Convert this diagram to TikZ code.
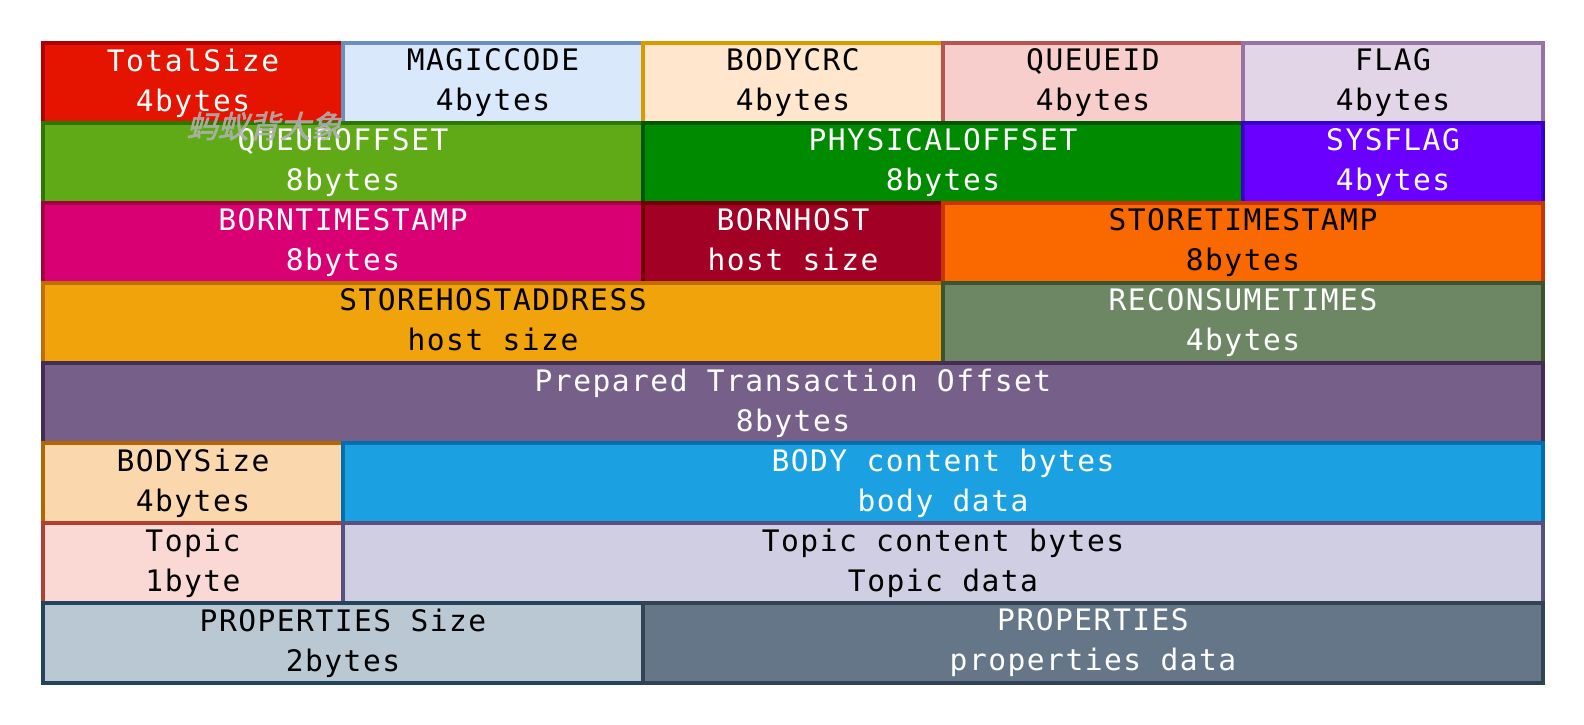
\documentclass[tikz,border=0pt]{standalone}
\usepackage{fontspec}
\newfontfamily\fieldfont[LetterSpace=5]{DejaVu Sans Mono}
\newfontfamily\markfont[FakeSlant=0.25,FakeBold=2]{Noto Sans CJK SC}
\newcommand\topstrut{\rule{0pt}{17pt}}
\newcommand\botstrut{\rule[-3pt]{0pt}{3pt}}

\definecolor{totalfill}{HTML}{E51400}\definecolor{totalline}{HTML}{B20000}
\definecolor{magicfill}{HTML}{DAE8FC}\definecolor{magicline}{HTML}{6C8EBF}
\definecolor{crcfill}{HTML}{FFE6CC}\definecolor{crcline}{HTML}{D79B00}
\definecolor{queuefill}{HTML}{F8CECC}\definecolor{queueline}{HTML}{B85450}
\definecolor{flagfill}{HTML}{E1D5E7}\definecolor{flagline}{HTML}{9673A6}
\definecolor{qofffill}{HTML}{60A917}\definecolor{qoffline}{HTML}{2D7600}
\definecolor{physfill}{HTML}{008A00}\definecolor{physline}{HTML}{005700}
\definecolor{sysfill}{HTML}{6A00FF}\definecolor{sysline}{HTML}{3700CC}
\definecolor{bornfill}{HTML}{D80073}\definecolor{bornline}{HTML}{A50040}
\definecolor{hostfill}{HTML}{A20025}\definecolor{hostline}{HTML}{6F0000}
\definecolor{storefill}{HTML}{FA6800}\definecolor{storeline}{HTML}{C73500}
\definecolor{addrfill}{HTML}{F0A30A}\definecolor{addrline}{HTML}{BD7000}
\definecolor{reconfill}{HTML}{6D8764}\definecolor{reconline}{HTML}{3A5431}
\definecolor{prepfill}{HTML}{76608A}\definecolor{prepline}{HTML}{432D57}
\definecolor{bsizefill}{HTML}{FAD7AC}\definecolor{bsizeline}{HTML}{B46504}
\definecolor{bodyfill}{HTML}{1BA1E2}\definecolor{bodyline}{HTML}{006EAF}
\definecolor{topicfill}{HTML}{FAD9D5}\definecolor{topicline}{HTML}{AE4132}
\definecolor{tdatafill}{HTML}{D0CEE2}\definecolor{tdataline}{HTML}{56517E}
\definecolor{psizefill}{HTML}{BAC8D3}\definecolor{psizeline}{HTML}{23445D}
\definecolor{propfill}{HTML}{647687}\definecolor{propline}{HTML}{314354}

\begin{document}
\begin{tikzpicture}[x=0.5pt,y=-0.5pt,
	field/.style={draw, line width=2pt, inner sep=0pt, minimum height=40pt, align=center,
		font=\fieldfont\fontsize{14.8pt}{20pt}\selectfont,
		execute at begin node=\topstrut, execute at end node=\botstrut},
	light/.style={text=white},
	w1/.style={minimum width=150pt}, w2/.style={minimum width=300pt},
	w3/.style={minimum width=450pt}, w4/.style={minimum width=600pt},
	w5/.style={minimum width=750pt}]
	\useasboundingbox (0,0) rectangle (1584,724);
	% row 1
	\node[field, w1, light, fill=totalfill, draw=totalline] (totalsize) at (193,83) {TotalSize\\4bytes};
	\node[field, w1, fill=magicfill, draw=magicline] (magiccode) at (493,83) {MAGICCODE\\4bytes};
	\node[field, w1, fill=crcfill, draw=crcline] (bodycrc) at (793,83) {BODYCRC\\4bytes};
	\node[field, w1, fill=queuefill, draw=queueline] (queueid) at (1093,83) {QUEUEID\\4bytes};
	\node[field, w1, fill=flagfill, draw=flagline] (flag) at (1393,83) {FLAG\\4bytes};
	% row 2
	\node[field, w2, light, fill=qofffill, draw=qoffline] (queueoffset) at (343,163) {QUEUEOFFSET\\8bytes};
	\node[field, w2, light, fill=physfill, draw=physline] (physoffset) at (943,163) {PHYSICALOFFSET\\8bytes};
	\node[field, w1, light, fill=sysfill, draw=sysline] (sysflag) at (1393,163) {SYSFLAG\\4bytes};
	% row 3
	\node[field, w2, light, fill=bornfill, draw=bornline] (borntime) at (343,243) {BORNTIMESTAMP\\8bytes};
	\node[field, w1, light, fill=hostfill, draw=hostline] (bornhost) at (793,243) {BORNHOST\\host size};
	\node[field, w2, fill=storefill, draw=storeline] (storetime) at (1243,243) {STORETIMESTAMP\\8bytes};
	% row 4
	\node[field, w3, fill=addrfill, draw=addrline] (storehost) at (493,323) {STOREHOSTADDRESS\\host size};
	\node[field, w2, light, fill=reconfill, draw=reconline] (reconsume) at (1243,323) {RECONSUMETIMES\\4bytes};
	% row 5
	\node[field, w5, light, fill=prepfill, draw=prepline] (prepared) at (793,403) {Prepared Transaction Offset\\8bytes};
	% row 6
	\node[field, w1, fill=bsizefill, draw=bsizeline] (bodysize) at (193,483) {BODYSize\\4bytes};
	\node[field, w4, light, fill=bodyfill, draw=bodyline] (body) at (943,483) {BODY content bytes\\body data};
	% row 7
	\node[field, w1, fill=topicfill, draw=topicline] (topic) at (193,563) {Topic\\1byte};
	\node[field, w4, fill=tdatafill, draw=tdataline] (topicdata) at (943,563) {Topic content bytes\\Topic data};
	% row 8
	\node[field, w2, fill=psizefill, draw=psizeline] (propsize) at (343,643) {PROPERTIES Size\\2bytes};
	\node[field, w3, light, fill=propfill, draw=propline] (properties) at (1093,643) {PROPERTIES\\properties data};
	% watermark
	\node[text=gray!60, text opacity=0.85, font=\markfont\fontsize{15.5pt}{15.5pt}\selectfont] (mark) at (264,126) {蚂蚁背大象};
\end{tikzpicture}
\end{document}
